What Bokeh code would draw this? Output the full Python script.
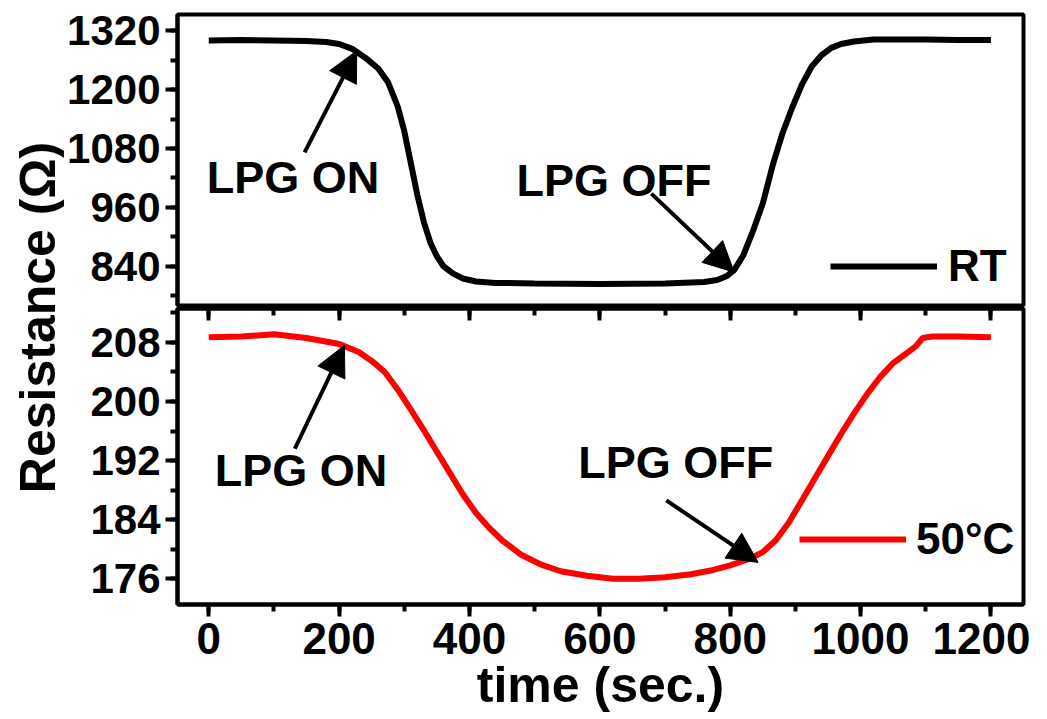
from bokeh.plotting import figure
from bokeh.layouts import row, column
from bokeh.models import (Range1d, SingleIntervalTicker, LinearAxis, Label,
                          Arrow, NormalHead, Legend, LegendItem,
                          CustomJSTickFormatter)
from bokeh.embed import file_html
from bokeh.resources import INLINE

FONT = "Liberation Sans"

# ---- data ----
time_rt = [0, 50, 100, 150, 180, 200, 220, 240, 260, 275, 290, 300, 310, 320,
           330, 340, 350, 360, 375, 390, 410, 440, 500, 600, 700, 760, 780,
           795, 806, 820, 835, 850, 865, 880, 895, 910, 925, 940, 955, 970,
           990, 1020, 1100, 1150, 1200]
res_rt = [1300, 1301, 1300, 1299, 1297, 1293, 1283, 1265, 1243, 1215, 1165,
          1115, 1050, 985, 930, 888, 860, 840, 825, 815, 809, 806, 805, 804,
          805, 808, 812, 820, 832, 862, 912, 968, 1045, 1110, 1163, 1210,
          1247, 1270, 1285, 1293, 1298, 1302, 1302, 1301, 1301]

time_50 = [0, 50, 100, 150, 200, 230, 250, 270, 290, 310, 330, 350, 370, 390,
           410, 430, 450, 480, 510, 540, 580, 620, 660, 700, 740, 770, 800,
           830, 850, 870, 890, 910, 930, 950, 970, 990, 1010, 1030, 1050,
           1070, 1085, 1095, 1110, 1150, 1200]
res_50 = [208.7, 208.8, 209.1, 208.6, 207.8, 206.7, 205.5, 204.0, 201.6,
          198.9, 196.1, 193.2, 190.3, 187.4, 184.9, 182.9, 181.2, 179.2,
          177.9, 177.0, 176.4, 176.0, 176.0, 176.2, 176.6, 177.1, 177.8,
          178.7, 179.6, 181.2, 183.6, 186.6, 189.6, 192.6, 195.6, 198.4,
          201.0, 203.3, 205.2, 206.5, 207.5, 208.6, 208.8, 208.8, 208.7]

series_labels = ["RT", "50°C"]
x_title = "time (sec.)"
y_title = "Resistance (Ω)"

x_range = Range1d(-48, 1250)


def style_axis(ax, label_size="42px"):
    ax.axis_line_width = 4
    ax.axis_line_color = "black"
    ax.major_tick_line_width = 4
    ax.minor_tick_line_width = 4
    ax.major_tick_out = 12
    ax.major_tick_in = 0
    ax.minor_tick_out = 7
    ax.minor_tick_in = 0
    ax.major_label_text_font = FONT
    ax.major_label_text_font_style = "bold"
    ax.major_label_text_font_size = label_size
    ax.major_label_text_color = "black"
    ax.major_label_standoff = 5


def base_fig(yr, fh, top_border, bottom_border, **kw):
    p = figure(frame_width=846, frame_height=fh, x_range=x_range, y_range=yr,
               min_border_left=112, min_border_right=8,
               min_border_top=top_border, min_border_bottom=bottom_border,
               output_backend="svg", toolbar_location=None, **kw)
    p.grid.visible = False
    p.outline_line_color = "black"
    p.outline_line_width = 4
    p.background_fill_color = "white"
    p.border_fill_color = "white"
    return p


def add_annot(p, xt, yt, x0, y0, x1, y1, txt):
    p.add_layout(Label(x=xt, y=yt, text=txt, text_font=FONT,
                       text_font_style="bold", text_font_size="45px",
                       text_align="left", text_baseline="middle",
                       text_color="black"))
    p.add_layout(Arrow(end=NormalHead(size=30, fill_color="black",
                                      line_color="black", line_width=1),
                       x_start=x0, y_start=y0, x_end=x1, y_end=y1,
                       line_width=4, line_color="black"))


# ---- top panel (RT) ----
top = base_fig(Range1d(760, 1353), 291, 14, 2, x_axis_location=None)
style_axis(top.yaxis[0])
top.yaxis[0].ticker = SingleIntervalTicker(interval=120, num_minor_ticks=2)
r_rt = top.line(time_rt, res_rt, line_color="black", line_width=6)
add_annot(top, -3, 1021, 147, 1072, 227, 1279, "LPG ON")
add_annot(top, 472, 1015, 679, 988, 806, 828, "LPG OFF")
leg_top = Legend(items=[LegendItem(label=series_labels[0], renderers=[r_rt])],
                 location=(653, 14), glyph_width=107, glyph_height=40,
                 label_standoff=11, padding=0, margin=0, spacing=0,
                 border_line_color=None, background_fill_alpha=0,
                 label_text_font=FONT, label_text_font_style="bold",
                 label_text_font_size="44px", label_text_color="black")
top.add_layout(leg_top)

# ---- bottom panel (50 C) ----
bot = base_fig(Range1d(172.5, 212.6), 296, 1, 0)
style_axis(bot.yaxis[0])
bot.yaxis[0].ticker = SingleIntervalTicker(interval=8, num_minor_ticks=2)
style_axis(bot.xaxis[0], "44px")
bot.xaxis[0].ticker = SingleIntervalTicker(interval=200, num_minor_ticks=2)
bot.xaxis[0].major_label_standoff = 6
bot.xaxis[0].axis_label = x_title
bot.xaxis[0].axis_label_text_font = FONT
bot.xaxis[0].axis_label_text_font_style = "bold"
bot.xaxis[0].axis_label_text_font_size = "50px"
bot.xaxis[0].axis_label_text_color = "black"
bot.xaxis[0].axis_label_standoff = 0

above = LinearAxis(ticker=SingleIntervalTicker(interval=200, num_minor_ticks=2),
                   formatter=CustomJSTickFormatter(code="return ''"))
above.axis_line_width = 4
above.major_tick_line_width = 4
above.minor_tick_line_width = 4
above.major_tick_in = 12
above.major_tick_out = 0
above.minor_tick_in = 7
above.minor_tick_out = 0
above.major_label_standoff = 0
bot.add_layout(above, "above")

r_50 = bot.line(time_50, res_50, line_color="#FF0000", line_width=6)
add_annot(bot, 9, 190.6, 132, 193.6, 208, 207.6, "LPG ON")
add_annot(bot, 567, 191.7, 702, 186.6, 843, 178.2, "LPG OFF")
leg_bot = Legend(items=[LegendItem(label=series_labels[1], renderers=[r_50])],
                 location=(622, 40), glyph_width=107, glyph_height=40,
                 label_standoff=10, padding=0, margin=0, spacing=0,
                 border_line_color=None, background_fill_alpha=0,
                 label_text_font=FONT, label_text_font_style="bold",
                 label_text_font_size="44px", label_text_color="black")
bot.add_layout(leg_bot)

# ---- shared y title ----
H = 716
lab = figure(width=64, height=H, x_range=Range1d(0, 1), y_range=Range1d(0, 1),
             min_border=0, output_backend="svg", toolbar_location=None,
             x_axis_location=None, y_axis_location=None)
lab.grid.visible = False
lab.outline_line_color = None
lab.add_layout(Label(x=37, y=H - 317, x_units="screen", y_units="screen",
                     text=y_title, angle=90, angle_units="deg",
                     text_font=FONT, text_font_style="bold",
                     text_font_size="50px", text_align="center",
                     text_baseline="middle", text_color="black"))

layout = row(lab, column(top, bot))
open("out.html", "w").write(file_html(layout, INLINE))
